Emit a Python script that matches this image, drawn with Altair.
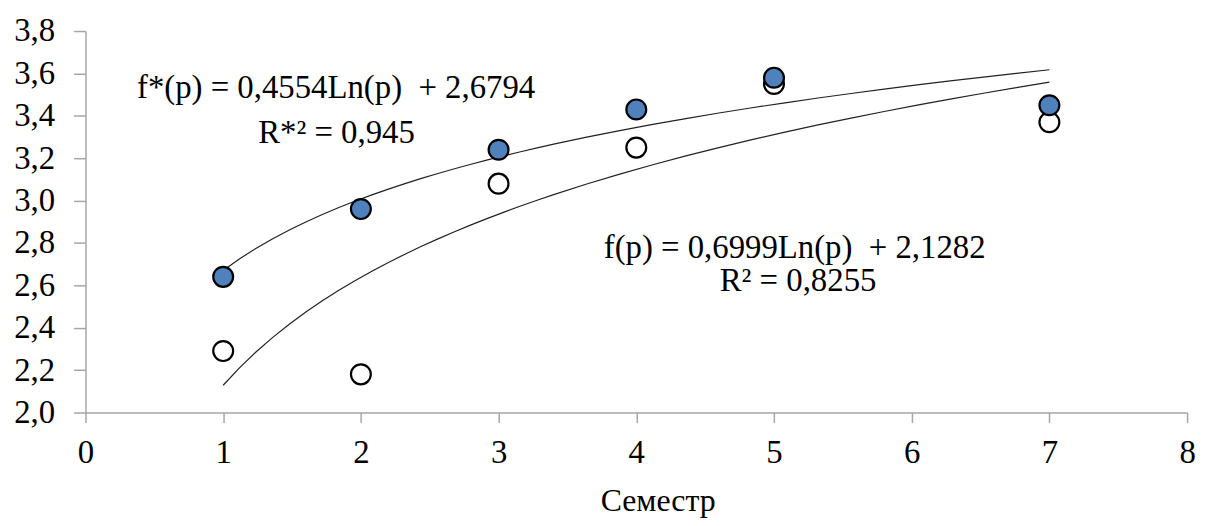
import altair as alt
import pandas as pd

# ---- data ----
semester = [1, 2, 3, 4, 5, 7]
f_star = [2.64, 2.96, 3.24, 3.43, 3.58, 3.45]   # filled blue points
f_plain = [2.29, 2.18, 3.08, 3.25, 3.55, 3.37]  # open points
x_ticks = [0, 1, 2, 3, 4, 5, 6, 7, 8]
y_ticks = [2.0, 2.2, 2.4, 2.6, 2.8, 3.0, 3.2, 3.4, 3.6, 3.8]
ann_lines = [
    "f*(p) = 0,4554Ln(p)\u00a0 + 2,6794",
    "R*\u00b2 = 0,945",
    "f(p) = 0,6999Ln(p)\u00a0 + 2,1282",
    "R\u00b2 = 0,8255",
]

df = pd.DataFrame({
    "semester": semester + semester,
    "value": f_star + f_plain,
    "series": ["f*"] * len(semester) + ["f"] * len(semester),
})

FONT = "'Liberation Serif', 'Times New Roman', 'DejaVu Serif', serif"
W, H = 1109, 384
AX = "#a6a6a6"

x_scale = alt.Scale(domain=[0, 8], nice=False)
y_scale = alt.Scale(domain=[2.0, 3.8], nice=False, zero=False)

x_axis = alt.Axis(
    values=x_ticks, format="d", title="Семестр", grid=False,
    domainColor=AX, tickColor=AX, domainWidth=1.5, tickWidth=1.5,
    tickSize=10, labelPadding=14, labelFontSize=33, labelFont=FONT,
    labelColor="black", labelFlush=False, labelOverlap=False,
    titleFont=FONT, titleFontSize=32,
    titleFontWeight="normal", titleColor="black",
    titleX=576, titleY=99, titleAlign="center", titleBaseline="alphabetic",
)
y_axis = alt.Axis(
    values=y_ticks, title=None, grid=False,
    labelExpr="replace(format(datum.value, '.1f'), '.', ',')",
    domainColor=AX, tickColor=AX, domainWidth=1.5, tickWidth=1.5,
    tickSize=12, labelPadding=19, labelFontSize=33, labelFont=FONT,
    labelColor="black", labelFlush=False, labelOverlap=False,
)

base = alt.Chart(df)
X = alt.X("semester:Q", scale=x_scale, axis=x_axis)
Y = alt.Y("value:Q", scale=y_scale, axis=y_axis)

trend = base.transform_regression(
    "semester", "value", method="log", groupby=["series"], extent=[1, 7]
).mark_line(color="#222222", strokeWidth=1.2).encode(x=X, y=Y, detail="series:N")

open_pts = base.transform_filter(alt.datum.series == "f").mark_point(
    shape="circle", filled=False, color="black", strokeWidth=2.2, size=400, opacity=1
).encode(x=X, y=Y)

filled_pts = base.transform_filter(alt.datum.series == "f*").mark_point(
    shape="circle", filled=True, fill="#4f81bd", stroke="black",
    strokeWidth=2.2, size=400, opacity=1
).encode(x=X, y=Y)

ann_pos = [(1.82, 3.482), (1.823, 3.274), (5.15, 2.728), (5.175, 2.573)]
texts = []
for line, (xd, yd) in zip(ann_lines, ann_pos):
    texts.append(
        alt.Chart(pd.DataFrame({"t": [line]})).mark_text(
            font=FONT, fontSize=33, color="black", align="center",
            baseline="alphabetic"
        ).encode(x=alt.datum(xd), y=alt.datum(yd), text="t:N")
    )

chart = alt.layer(trend, open_pts, filled_pts, *texts).properties(
    width=W, height=H,
    autosize=alt.AutoSizeParams(type="none"),
    padding={"left": 78, "top": 21.5, "right": 13, "bottom": 104},
).configure_view(stroke=None)

chart.save("out.html", embed_options={"renderer": "svg", "actions": False})
